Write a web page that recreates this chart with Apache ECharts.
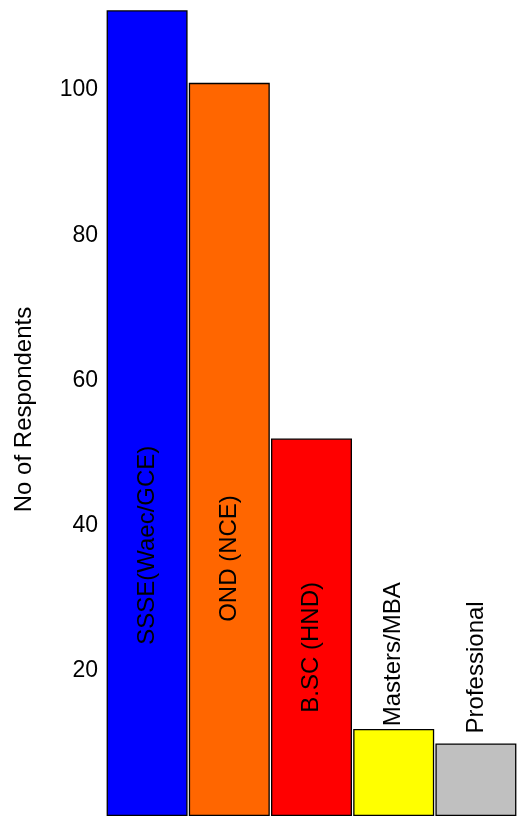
<!DOCTYPE html>
<html>
<head>
<meta charset="utf-8">
<script src="https://cdn.jsdelivr.net/npm/echarts@6/dist/echarts.min.js"></script>
<style>html,body{margin:0;padding:0;background:#fff}#c{width:517px;height:816px}</style>
</head>
<body>
<div id="c"></div>
<script>
const categories = ['SSSE(Waec/GCE)', 'OND (NCE)', 'B.SC (HND)', 'Masters/MBA', 'Professional'];
const respondents = [111, 101, 52, 12, 10];
const yTicks = [20, 40, 60, 80, 100];

// style / layout
const colors = ['#0000FF', '#FF6600', '#FF0000', '#FFFF00', '#C0C0C0'];
const labelAnchor = [37.3, 35.2, 23.1, 22.7, 20.2];
const labelDx = [0, 2, 1, -3, 2];
const FONT = 'Liberation Sans, Arial, sans-serif';

const chart = echarts.init(document.getElementById('c'), null, {renderer: 'canvas'});
chart.setOption({
  animation: false,
  grid: {left: 106, top: 3, bottom: -1, right: -6, containLabel: false},
  xAxis: {
    type: 'category', data: categories,
    axisLine: {show: false}, axisTick: {show: false}, axisLabel: {show: false}
  },
  yAxis: {
    type: 'value', min: 0, max: 112, interval: 20,
    name: 'No of Respondents', nameLocation: 'middle', nameGap: 70,
    nameTextStyle: {fontFamily: FONT, fontSize: 24, color: '#000'},
    axisLine: {show: false}, axisTick: {show: false}, splitLine: {show: false},
    axisLabel: {
      fontFamily: FONT, fontSize: 23, color: '#000', margin: 8,
      formatter: v => yTicks.indexOf(v) >= 0 ? String(v) : ''
    }
  },
  series: [{
    type: 'bar', barCategoryGap: '1.5%',
    data: respondents.map((v, i) => ({value: v, itemStyle: {color: colors[i]}})),
    itemStyle: {borderColor: '#000', borderWidth: 1.3}
  }, {
    type: 'scatter', symbolSize: 0, silent: true,
    data: categories.map((c, i) => [c, labelAnchor[i]]),
    itemStyle: {opacity: 1},
    label: {
      show: true, position: 'inside', rotate: 90, opacity: 1,
      fontFamily: FONT, fontSize: 24, color: '#000', textBorderWidth: 0,
      formatter: p => categories[p.dataIndex]
    },
    labelLayout: p => ({dx: labelDx[p.dataIndex]})
  }]
});
</script>
</body>
</html>
